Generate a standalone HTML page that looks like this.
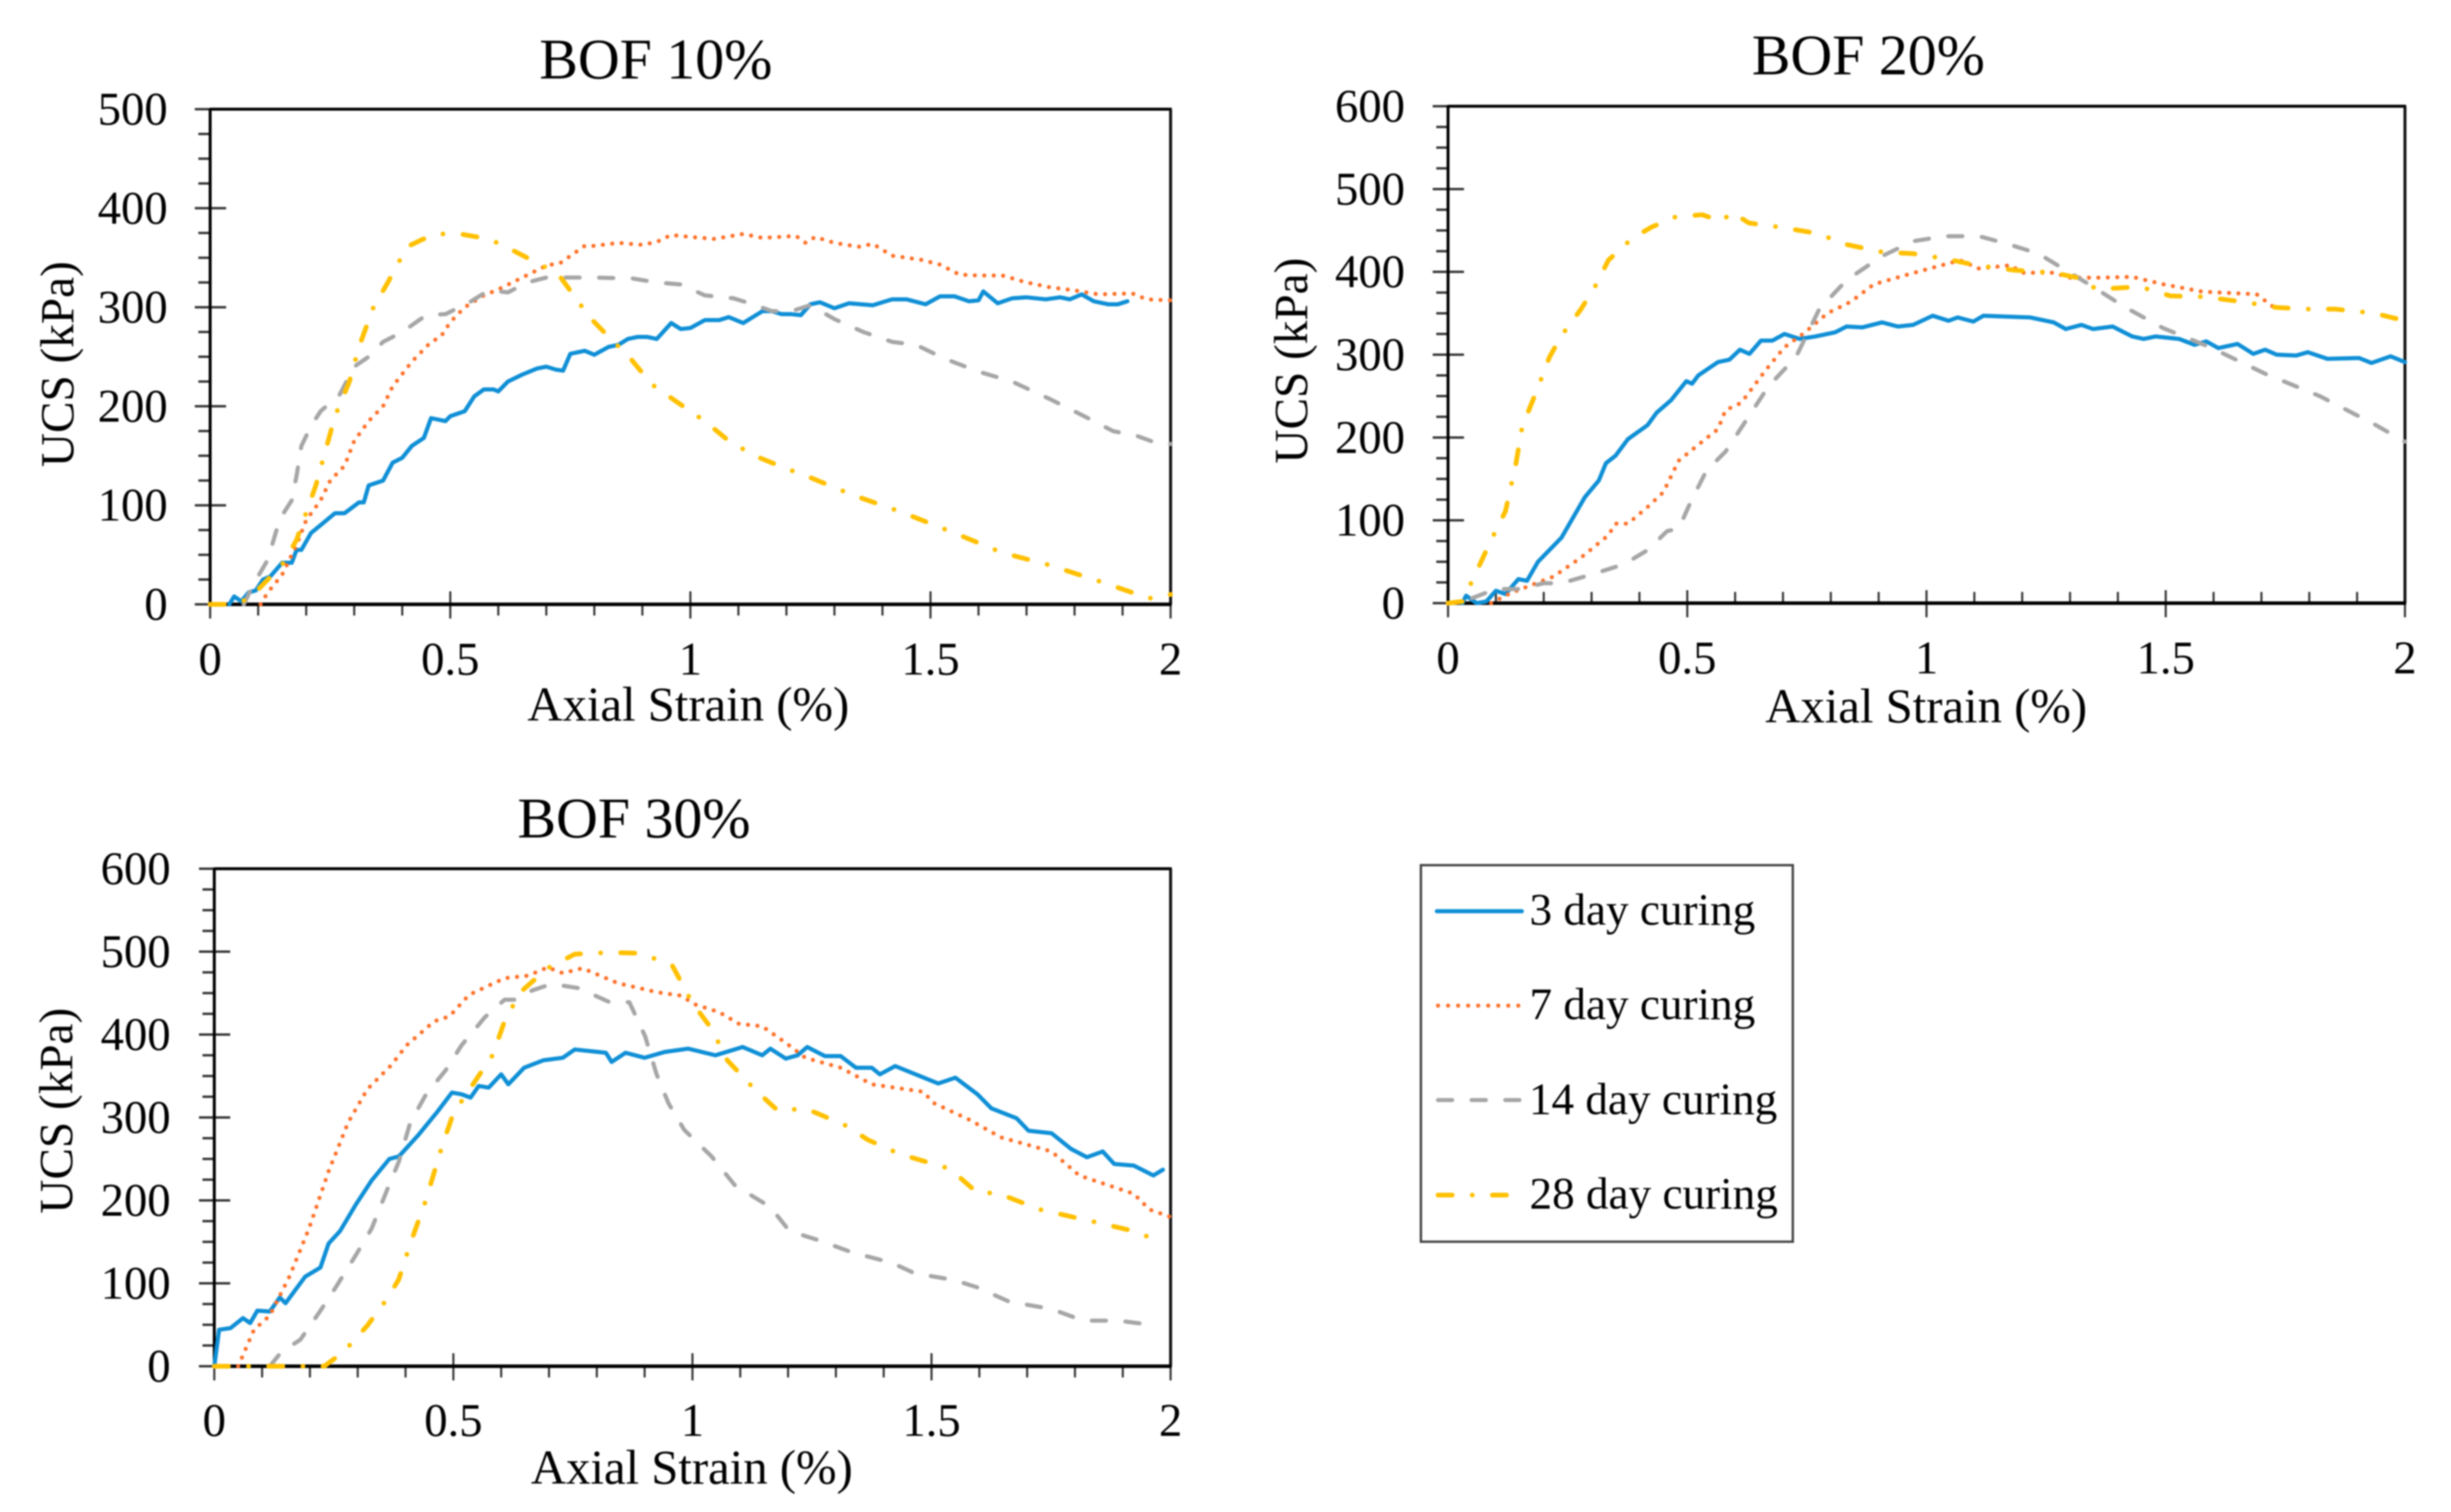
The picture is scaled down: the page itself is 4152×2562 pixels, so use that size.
<!DOCTYPE html>
<html lang="en">
<head>
<meta charset="utf-8">
<title>UCS vs Axial Strain for BOF mixes</title>
<style>
html,body{margin:0;padding:0;background:#fff;}
svg{display:block;filter:blur(1.2px);}
text{font-family:"Liberation Serif",serif;fill:#000;}
.tick{font-size:79px;}
.axis{font-size:82.5px;}
.ytitle{font-size:80px;}
.title{font-size:98px;}
.leg{font-size:76.5px;}
</style>
</head>
<body>
<svg id="figure" xmlns="http://www.w3.org/2000/svg" width="4152" height="2562" viewBox="0 0 4152 2562">
  <rect x="0" y="0" width="4152" height="2562" fill="#fff"/>
  <g id="chart10">
    <text class="title" x="1111" y="133" text-anchor="middle">BOF 10%</text>
    <text class="axis" x="1166" y="1221" text-anchor="middle">Axial Strain (%)</text>
    <text class="ytitle" transform="translate(124 617) rotate(-90)" text-anchor="middle">UCS (kPa)</text>
  </g>
  <g id="chart20">
    <text class="title" x="3165" y="126" text-anchor="middle">BOF 20%</text>
    <text class="axis" x="3263" y="1224" text-anchor="middle">Axial Strain (%)</text>
    <text class="ytitle" transform="translate(2214 611) rotate(-90)" text-anchor="middle">UCS (kPa)</text>
  </g>
  <g id="chart30">
    <text class="title" x="1074" y="1419" text-anchor="middle">BOF 30%</text>
    <text class="axis" x="1172" y="2514" text-anchor="middle">Axial Strain (%)</text>
    <text class="ytitle" transform="translate(122 1882) rotate(-90)" text-anchor="middle">UCS (kPa)</text>
  </g>
  <g>
    <rect x="2407" y="1466" width="630" height="638" fill="#fff" stroke="#444" stroke-width="4"/>
    <line x1="2434" x2="2578" y1="1544" y2="1544" stroke="#0f8fd6" stroke-width="7" stroke-linecap="round"/>
    <text class="leg" x="2591" y="1567">3 day curing</text>
    <line x1="2436" x2="2572" y1="1704" y2="1704" stroke="#ff7028" stroke-width="7" stroke-dasharray="0.1 16.9" stroke-linecap="round"/>
    <text class="leg" x="2591" y="1727">7 day curing</text>
    <line x1="2436" x2="2578" y1="1864" y2="1864" stroke="#a6a6a6" stroke-width="7" stroke-dasharray="24 33" stroke-linecap="round"/>
    <text class="leg" x="2590" y="1888">14 day curing</text>
    <line x1="2436" x2="2552" y1="2025" y2="2025" stroke="#ffc000" stroke-width="8" stroke-dasharray="24 34 0.1 34" stroke-linecap="round"/>
    <text class="leg" x="2591" y="2048">28 day curing</text>
  </g>
</svg>
<script>
const xTickLabels = [0, 0.5, 1, 1.5, 2];
const yTickLabels10 = [0, 100, 200, 300, 400, 500];
const yTickLabels20 = [0, 100, 200, 300, 400, 500, 600];
const yTickLabels30 = [0, 100, 200, 300, 400, 500, 600];

const bof10Day3 = [[0.04,0],[0.05,8],[0.065,3],[0.08,12],[0.095,14],[0.11,25],[0.125,28],[0.15,42],[0.17,42],[0.18,55],[0.19,55],[0.21,72],[0.23,80],[0.26,92],[0.28,92],[0.31,103],[0.32,103],[0.33,120],[0.36,125],[0.38,143],[0.4,148],[0.42,160],[0.445,168],[0.46,188],[0.49,185],[0.5,190],[0.53,195],[0.55,210],[0.57,217],[0.59,217],[0.6,215],[0.62,225],[0.65,232],[0.68,238],[0.7,240],[0.72,237],[0.735,236],[0.75,253],[0.78,256],[0.8,252],[0.83,260],[0.85,262],[0.87,268],[0.89,270],[0.91,270],[0.93,268],[0.96,284],[0.98,278],[1.0,279],[1.03,287],[1.06,287],[1.08,290],[1.11,284],[1.15,296],[1.17,296],[1.19,293],[1.21,293],[1.23,292],[1.25,303],[1.27,305],[1.3,299],[1.33,304],[1.38,302],[1.42,308],[1.45,308],[1.49,303],[1.52,311],[1.55,311],[1.58,306],[1.6,307],[1.61,316],[1.64,304],[1.67,309],[1.7,310],[1.74,308],[1.77,310],[1.79,308],[1.815,313],[1.84,306],[1.87,303],[1.89,303],[1.91,306]];
const bof10Day7 = [[0.105,0],[0.12,12],[0.15,30],[0.18,60],[0.2,85],[0.23,105],[0.25,125],[0.28,140],[0.3,165],[0.33,185],[0.36,200],[0.38,220],[0.42,245],[0.46,265],[0.48,270],[0.5,285],[0.53,300],[0.57,312],[0.6,318],[0.65,330],[0.7,342],[0.73,345],[0.78,362],[0.8,362],[0.85,365],[0.9,363],[0.93,366],[0.96,373],[1.0,371],[1.05,369],[1.11,374],[1.15,370],[1.22,372],[1.24,365],[1.26,371],[1.3,365],[1.35,361],[1.38,364],[1.42,352],[1.48,348],[1.52,343],[1.56,333],[1.6,332],[1.65,332],[1.7,325],[1.75,320],[1.8,317],[1.85,313],[1.92,314],[1.95,308],[2,307]];
const bof10Day14 = [[0.07,0],[0.09,20],[0.12,45],[0.14,78],[0.15,90],[0.17,105],[0.18,130],[0.19,160],[0.21,180],[0.23,195],[0.27,212],[0.3,240],[0.33,250],[0.36,265],[0.4,275],[0.45,292],[0.49,293],[0.54,305],[0.58,317],[0.62,315],[0.66,325],[0.7,330],[0.8,330],[0.88,329],[0.93,325],[0.98,323],[1.03,312],[1.09,309],[1.13,303],[1.17,296],[1.21,296],[1.25,302],[1.3,288],[1.36,275],[1.42,265],[1.47,262],[1.53,248],[1.6,235],[1.67,225],[1.75,207],[1.82,190],[1.88,175],[1.93,170],[1.97,163],[2,162]];
const bof10Day28 = [[0,0],[0.04,0],[0.08,5],[0.12,25],[0.15,40],[0.18,65],[0.22,120],[0.26,190],[0.29,225],[0.31,260],[0.34,300],[0.37,325],[0.41,361],[0.44,368],[0.47,374],[0.52,374],[0.58,369],[0.62,360],[0.66,350],[0.7,340],[0.727,332],[0.79,290],[0.82,275],[0.874,249],[0.92,222],[0.97,205],[1.03,185],[1.08,165],[1.134,150],[1.2,137],[1.24,130],[1.34,110],[1.435,94],[1.55,72],[1.65,52],[1.745,40],[1.86,22],[1.955,6],[2,10]];

const bof20Day3 = [[0.03,0],[0.0376,9],[0.06,0],[0.08,2],[0.1,15],[0.12,11],[0.147,29],[0.165,27],[0.188,50],[0.237,79],[0.26,102],[0.286,128],[0.315,148],[0.33,169],[0.35,178],[0.376,198],[0.417,215],[0.436,230],[0.466,245],[0.498,268],[0.51,265],[0.523,275],[0.564,291],[0.588,294],[0.61,306],[0.63,301],[0.654,317],[0.678,317],[0.703,325],[0.735,319],[0.768,322],[0.809,327],[0.833,334],[0.866,333],[0.907,339],[0.94,334],[0.972,336],[1.013,347],[1.046,341],[1.065,345],[1.098,340],[1.119,347],[1.217,345],[1.266,339],[1.291,331],[1.324,336],[1.348,331],[1.389,334],[1.43,322],[1.454,319],[1.479,322],[1.528,319],[1.56,312],[1.585,316],[1.61,308],[1.65,313],[1.683,301],[1.708,306],[1.732,300],[1.773,299],[1.797,303],[1.838,295],[1.904,296],[1.93,290],[1.97,298],[2,291]];
const bof20Day7 = [[0.09,0],[0.13,12],[0.22,32],[0.278,55],[0.335,82],[0.35,96],[0.376,96],[0.417,116],[0.45,134],[0.482,172],[0.531,195],[0.564,210],[0.58,233],[0.613,242],[0.662,280],[0.703,309],[0.744,326],[0.793,350],[0.842,364],[0.89,385],[0.956,396],[1.013,405],[1.07,414],[1.11,404],[1.176,408],[1.2,399],[1.266,399],[1.3,393],[1.364,393],[1.43,394],[1.495,385],[1.577,376],[1.69,373],[1.724,358]];
const bof20Day14 = [[0.05,6],[0.1,17],[0.147,17],[0.2,24],[0.237,24],[0.302,35],[0.368,47],[0.417,64],[0.458,87],[0.482,90],[0.507,122],[0.54,160],[0.58,183],[0.62,218],[0.67,262],[0.727,297],[0.776,355],[0.833,390],[0.907,419],[0.972,437],[1.038,443],[1.11,443],[1.168,434],[1.234,422],[1.291,402],[1.348,382],[1.413,358],[1.495,332],[1.593,309],[1.708,277],[1.822,250],[1.936,216],[2,195]];
const bof20Day28 = [[0,0],[0.03,2],[0.057,35],[0.09,76],[0.12,111],[0.142,169],[0.155,213],[0.185,256],[0.212,297],[0.237,323],[0.278,355],[0.31,385],[0.335,414],[0.384,440],[0.425,454],[0.474,466],[0.531,469],[0.572,461],[0.593,472],[0.629,459],[0.694,454],[0.776,446],[0.825,434],[0.907,424],[0.972,422],[1.038,416],[1.103,408],[1.185,402],[1.266,399],[1.315,393],[1.356,379],[1.446,382],[1.51,371],[1.577,370],[1.66,364],[1.732,357],[1.797,355],[1.855,355],[1.936,350],[2,341]];

const bof30Day3 = [[0,0],[0.01,44],[0.034,46],[0.06,58],[0.075,52],[0.09,67],[0.116,66],[0.137,83],[0.149,76],[0.19,108],[0.222,119],[0.239,148],[0.263,163],[0.296,195],[0.329,224],[0.366,250],[0.386,253],[0.427,279],[0.468,308],[0.497,330],[0.517,328],[0.536,324],[0.553,338],[0.574,336],[0.6,352],[0.615,340],[0.648,360],[0.688,369],[0.729,372],[0.754,382],[0.819,378],[0.831,367],[0.86,378],[0.9,372],[0.942,379],[0.991,383],[1.048,375],[1.105,385],[1.146,375],[1.163,383],[1.195,371],[1.22,375],[1.24,385],[1.277,374],[1.31,374],[1.342,360],[1.375,360],[1.392,352],[1.424,362],[1.514,341],[1.55,348],[1.596,328],[1.625,311],[1.678,299],[1.703,284],[1.751,281],[1.792,262],[1.825,252],[1.858,259],[1.882,244],[1.923,242],[1.964,230],[1.984,237]];
const bof30Day7 = [[0.05,0],[0.083,44],[0.116,61],[0.157,108],[0.198,166],[0.239,235],[0.28,294],[0.32,334],[0.37,363],[0.402,387],[0.46,416],[0.492,422],[0.533,448],[0.607,468],[0.656,471],[0.697,481],[0.729,474],[0.77,480],[0.844,462],[0.926,451],[0.975,447],[1.007,436],[1.056,427],[1.097,413],[1.146,410],[1.195,390],[1.236,372],[1.31,360],[1.375,340],[1.482,331],[1.506,317],[1.58,297],[1.645,276],[1.751,259],[1.809,230],[1.923,208],[1.956,189],[2,180]];
const bof30Day14 = [[0.116,0],[0.14,17],[0.18,32],[0.222,67],[0.255,96],[0.296,134],[0.329,166],[0.361,212],[0.386,247],[0.41,294],[0.443,328],[0.484,357],[0.517,387],[0.566,421],[0.607,442],[0.631,442],[0.664,453],[0.705,461],[0.762,456],[0.827,439],[0.868,439],[0.901,398],[0.925,352],[0.95,317],[0.983,285],[1.04,253],[1.089,218],[1.163,192],[1.203,163],[1.269,151],[1.335,137],[1.416,125],[1.465,112],[1.547,104],[1.596,95],[1.662,78],[1.751,69],[1.817,55],[1.89,55],[1.972,49]];
const bof30Day28 = [[0,0],[0.04,0],[0.23,0],[0.27,17],[0.32,49],[0.361,81],[0.386,105],[0.41,148],[0.443,201],[0.476,265],[0.5,305],[0.541,340],[0.582,375],[0.607,416],[0.64,451],[0.697,480],[0.754,497],[0.827,499],[0.893,498],[0.958,483],[0.999,439],[1.04,407],[1.073,369],[1.13,334],[1.179,308],[1.236,311],[1.318,291],[1.367,273],[1.433,256],[1.539,238],[1.596,209],[1.637,209],[1.727,189],[1.841,174],[1.923,163],[1.988,148]];

const SVG_NS = 'http://www.w3.org/2000/svg';

function make(tag, attrs, parent) {
  const node = document.createElementNS(SVG_NS, tag);
  for (const k in attrs) node.setAttribute(k, attrs[k]);
  parent.appendChild(node);
  return node;
}

function drawSeries(parent, points, sx, sy, stroke, width, dash, name) {
  const d = points.map(function (p, i) {
    return (i ? 'L' : 'M') + sx(p[0]).toFixed(1) + ' ' + sy(p[1]).toFixed(1);
  }).join(' ');
  const attrs = { d: d, fill: 'none', stroke: stroke, 'stroke-width': width, 'stroke-linejoin': 'round', 'stroke-linecap': 'round' };
  if (dash) attrs['stroke-dasharray'] = dash;
  const path = make('path', attrs, parent);
  
  
}

function drawChart(groupId, left, right, top, bottom, yMax, yTicks, labelRight, xLabelBase, minorInside, series, tag) {
  const g = document.getElementById(groupId);
  const xMax = xTickLabels[xTickLabels.length - 1];
  const sx = function (v) { return left + (right - left) * v / xMax; };
  const sy = function (v) { return bottom - (bottom - top) * v / yMax; };

  const ticks = make('g', {}, g);
  
  

  const yStep = yTicks[1] - yTicks[0];
  for (let i = 0; i < yTicks.length; i++) {
    const v = yTicks[i];
    const major = make('line', { x1: left - 26, x2: (v === 0 || v === yMax) ? left : left + 27, y1: sy(v), y2: sy(v), stroke: '#333', 'stroke-width': 4 }, ticks);
    
    
    const label = make('text', { class: 'tick', x: labelRight, y: sy(v) + 26, 'text-anchor': 'end' }, g);
    label.textContent = String(v);
    
    
    if (i < yTicks.length - 1) {
      for (let m = 1; m < 4; m++) {
        const minor = make('line', { x1: left - 20, x2: left, y1: sy(v + yStep * m / 4), y2: sy(v + yStep * m / 4), stroke: '#333', 'stroke-width': 4 }, ticks);
        
        
      }
    }
  }

  const xStep = xTickLabels[1] - xTickLabels[0];
  for (let i = 0; i < xTickLabels.length; i++) {
    const v = xTickLabels[i];
    const major = make('line', { x1: sx(v), x2: sx(v), y1: (i === 0 || i === xTickLabels.length - 1) ? bottom : bottom - 22, y2: bottom + 24, stroke: '#333', 'stroke-width': 3.5 }, ticks);
    
    
    const label = make('text', { class: 'tick', x: sx(v), y: xLabelBase, 'text-anchor': 'middle' }, g);
    label.textContent = String(v);
    
    
    if (i < xTickLabels.length - 1) {
      for (let m = 1; m < 5; m++) {
        const minor = make('line', { x1: sx(v + xStep * m / 5), x2: sx(v + xStep * m / 5), y1: bottom, y2: minorInside ? bottom - 19 : bottom + 19, stroke: '#333', 'stroke-width': 3.5 }, ticks);
        
        
      }
    }
  }

  const topLine = make('line', { x1: left, x2: right + 2, y1: top, y2: top, stroke: '#000', 'stroke-width': 5 }, g);
  
  
  const rightLine = make('line', { x1: right, x2: right, y1: top, y2: bottom, stroke: '#111', 'stroke-width': 5 }, g);
  
  
  const leftLine = make('line', { x1: left, x2: left, y1: top - 2, y2: bottom, stroke: '#000', 'stroke-width': 5 }, g);
  
  
  const bottomLine = make('line', { x1: left, x2: right + 2, y1: bottom, y2: bottom, stroke: '#000', 'stroke-width': 6 }, g);
  
  

  drawSeries(g, series[0], sx, sy, '#0f8fd6', 7, '', 'series-3-day-' + tag);
  drawSeries(g, series[1], sx, sy, '#ff7028', 7, '0.1 15.9', 'series-7-day-' + tag);
  drawSeries(g, series[2], sx, sy, '#a6a6a6', 7, '24 33', 'series-14-day-' + tag);
  drawSeries(g, series[3], sx, sy, '#ffc000', 8, '24 34 0.1 34', 'series-28-day-' + tag);
}

drawChart('chart10', 356, 1983, 185, 1024, 500, yTickLabels10, 284, 1143, false, [bof10Day3, bof10Day7, bof10Day14, bof10Day28], 'bof-10');
drawChart('chart20', 2453, 4074, 180, 1022, 600, yTickLabels20, 2380, 1141, true, [bof20Day3, bof20Day7, bof20Day14, bof20Day28], 'bof-20');
drawChart('chart30', 363, 1983, 1472, 2315, 600, yTickLabels30, 289, 2433, false, [bof30Day3, bof30Day7, bof30Day14, bof30Day28], 'bof-30');
</script>
</body>
</html>
